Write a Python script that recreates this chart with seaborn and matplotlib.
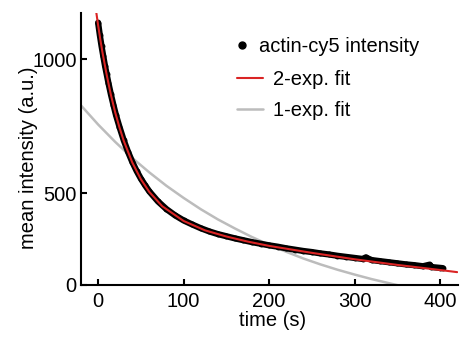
import matplotlib
matplotlib.use("Agg")
import matplotlib.pyplot as plt
from matplotlib.lines import Line2D
import seaborn as sns

# ---- data ----
data_time = [0, 2, 4, 6, 8, 10, 12, 15, 18, 21, 25, 30, 35, 40, 45, 50, 55, 60, 70, 80,
             90, 100, 110, 120, 130, 140, 150, 160, 170, 180, 190, 200, 210, 220, 230,
             240, 250, 260, 270, 280, 290, 300, 310, 313, 320, 330, 340, 350, 360, 370,
             380, 388, 390, 400, 403]
data_intensity = [1136, 1090, 1049, 1012, 976, 944, 912, 868, 828, 790, 747, 697, 654, 616,
                  583, 554, 529, 506, 469, 440, 417, 398, 383, 369, 357, 347, 339, 331, 324,
                  317, 311, 305, 300, 294, 289, 284, 280, 275, 271, 266, 262, 258, 254, 260,
                  250, 246, 242, 238, 234, 231, 227, 233, 224, 221, 220]

fit2_time = [-3, 0, 2.5, 5, 10, 15, 20, 25, 30, 40, 50, 60, 75, 100, 125, 150, 175, 200,
             250, 300, 350, 400, 420]
fit2_values = [1194, 1127, 1075, 1027, 942, 866, 801, 745, 695, 614, 552, 504, 451, 396,
               361, 338, 319, 303, 277, 253, 232, 213, 205]

fit1_time = [-20, 0, 20, 40, 60, 80, 100, 120, 140, 160, 180, 200, 220, 240, 260, 280,
             300, 320, 340, 360]
fit1_values = [827, 756, 691, 631, 577, 527, 482, 440, 402, 368, 336, 307, 281, 256, 234,
               214, 196, 179, 164, 149]

x_ticks = [0, 100, 200, 300, 400]
y_axis_bottom = 157
y_ticks = [y_axis_bottom, 500, 1000]
y_tick_labels = ["0", "500", "1000"]
legend_labels = ["actin-cy5 intensity", "2-exp. fit", "1-exp. fit"]

RED = "#da2424"
GRAY = "#bcbcbc"
FS = 14.5

sns.set_style("ticks")
plt.rcParams["font.family"] = ["Liberation Sans", "DejaVu Sans"]
plt.rcParams["text.color"] = "black"
plt.rcParams["axes.labelcolor"] = "black"

fig = plt.figure(figsize=(4.61, 3.40), dpi=100)
ax = fig.add_axes([81 / 461, 1 - 285 / 340, 377 / 461, 272 / 340])

sns.lineplot(x=fit1_time, y=fit1_values, color=GRAY, lw=1.8, ax=ax, zorder=2)
sns.lineplot(x=data_time, y=data_intensity, color="black", lw=4.5, ax=ax, zorder=3)
sns.scatterplot(x=data_time, y=data_intensity, color="black", s=18, linewidth=0,
                ax=ax, zorder=3)
sns.lineplot(x=fit2_time, y=fit2_values, color=RED, lw=1.5, ax=ax, zorder=4)

ax.set_xlim(-20, 421)
ax.set_ylim(y_axis_bottom, 1172)
ax.set_xticks(x_ticks)
ax.set_xticklabels([str(t) for t in x_ticks])
ax.set_yticks(y_ticks)
ax.set_yticklabels(y_tick_labels)

for s in ["top", "right"]:
    ax.spines[s].set_visible(False)
for s in ["left", "bottom"]:
    ax.spines[s].set_linewidth(1.5)
    ax.spines[s].set_color("black")
ax.tick_params(direction="in", length=4, width=1.5, labelsize=FS, pad=3,
               colors="black")
ax.tick_params(axis="x", pad=5)

ax.set_xlabel("time (s)", fontsize=FS)
ax.set_ylabel("mean intensity (a.u.)", fontsize=FS)
ax.xaxis.set_label_coords(0.507, -0.095)
ax.yaxis.set_label_coords(-0.114, 0.469)

h1 = Line2D([], [], marker="o", ls="", color="black", markersize=5)
leg1 = ax.legend([h1], [legend_labels[0]], loc="center left",
                 bbox_to_anchor=(0.411, 0.878), frameon=False, fontsize=FS,
                 handlelength=0.6, handletextpad=0.55, borderpad=0, borderaxespad=0)
ax.add_artist(leg1)
h2 = Line2D([], [], color=RED, lw=1.5)
h3 = Line2D([], [], color=GRAY, lw=1.8)
ax.legend([h2, h3], legend_labels[1:], loc="center left",
          bbox_to_anchor=(0.414, 0.697), frameon=False, fontsize=FS,
          handlelength=1.3, handletextpad=0.5, labelspacing=0.6,
          borderpad=0, borderaxespad=0)

fig.savefig("out.png", dpi=100)
